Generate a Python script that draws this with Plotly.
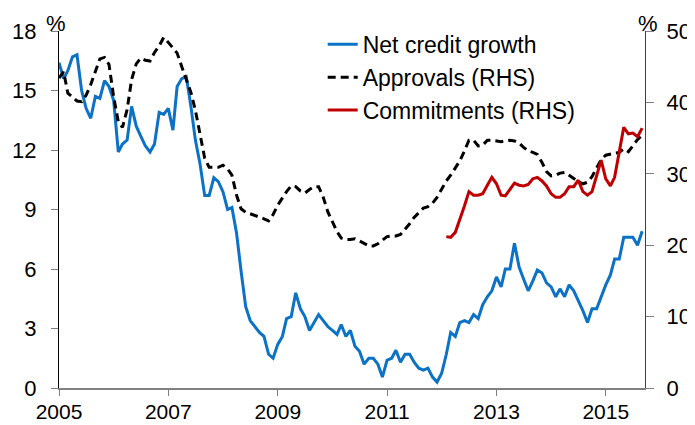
import pandas as pd
import plotly.graph_objects as go

dates = pd.date_range("2005-01-01", periods=129, freq="MS")

net_credit_growth = [
    16.4, 15.6, 16.0, 16.7, 16.8, 15.0, 14.1, 13.6, 14.7, 14.6, 15.5, 15.2,
    14.5, 11.9, 12.3, 12.5, 14.2, 13.2, 12.7, 12.2, 11.9, 12.3, 13.9, 13.8,
    14.1, 13.0, 15.2, 15.6, 15.7, 14.2, 12.5, 11.3, 9.7, 9.7, 10.6, 10.4,
    9.9, 9.0, 9.1, 7.8, 5.9, 4.1, 3.4, 3.1, 2.8, 2.6, 1.7, 1.5,
    2.2, 2.6, 3.5, 3.6, 4.8, 4.0, 3.6, 2.9, 3.3, 3.7, 3.4, 3.1,
    2.9, 2.7, 3.2, 2.6, 2.9, 2.1, 1.85, 1.2, 1.5, 1.5, 1.2, 0.55,
    1.4, 1.5, 1.9, 1.3, 1.7, 1.7, 1.3, 1.0, 0.9, 1.0, 0.55, 0.3,
    0.75, 1.7, 2.8, 2.6, 3.3, 3.4, 3.3, 3.7, 3.5, 4.2, 4.6, 4.9,
    5.6, 5.1, 6.0, 6.0, 7.3, 6.1, 5.5, 4.9, 5.4, 5.95, 5.8, 5.3,
    5.1, 4.6, 5.0, 4.6, 5.2, 4.9, 4.4, 3.9, 3.3, 4.0, 4.0, 4.6,
    5.2, 5.7, 6.5, 6.5, 7.6, 7.6, 7.6, 7.2, 7.9,
]

approvals = [
    43.4, 44.3, 41.3, 40.8, 40.2, 40.1, 41.0, 42.5, 44.2, 46.1, 46.3, 45.3,
    40.8, 37.3, 36.5, 39.0, 43.2, 45.4, 46.2, 45.9, 45.8, 47.0, 47.9, 49.1,
    48.4, 47.6, 46.9, 45.0, 43.2, 41.4, 38.9, 35.5, 32.2, 30.9, 30.9, 30.9,
    31.2, 30.7, 29.8, 27.0, 25.1, 24.6, 24.4, 24.2, 24.0, 23.7, 23.4, 24.3,
    25.6, 26.6, 27.5, 28.3, 28.2, 27.6, 27.3, 27.8, 28.2, 28.2, 26.7, 24.7,
    23.2, 21.9, 21.0, 20.8, 20.8, 20.9, 20.6, 20.3, 19.9, 19.9, 20.2, 20.7,
    21.2, 21.3, 21.3, 21.5, 22.2, 23.0, 23.9, 24.6, 25.2, 25.4, 25.9, 26.7,
    27.8, 29.0, 29.8, 30.8, 31.8, 33.2, 34.7, 34.7, 33.9, 34.0, 34.7, 34.7,
    34.6, 34.5, 34.6, 34.7, 34.6, 34.3, 33.7, 33.2, 33.0, 32.7, 31.6, 30.3,
    29.7, 29.8, 30.1, 30.2, 29.8, 29.3, 28.9, 28.6, 28.8, 29.6, 30.8, 32.0,
    32.6, 32.8, 32.9, 33.0, 33.5, 33.1, 33.9, 34.8, 35.4,
]

commitments = [None] * 85 + [
    21.2, 21.1, 21.8, 23.5, 25.5, 27.5, 27.0, 27.0, 27.2, 28.4, 29.5,
    28.6, 27.0, 26.9, 27.8, 28.7, 28.4, 28.3, 28.5, 29.3, 29.5, 29.0, 28.3,
    27.2, 26.7, 26.7, 27.2, 28.2, 28.2, 29.1, 27.5, 27.0, 27.5, 29.8, 31.9,
    29.3, 28.3, 29.5, 33.0, 36.5, 35.6, 35.7, 35.2, 36.4,
]

left_ticks = [0, 3, 6, 9, 12, 15, 18]
right_ticks = [0, 10, 20, 30, 40, 50]
year_ticks = ["2005", "2007", "2009", "2011", "2013", "2015"]

FONT = "Arial, Liberation Sans, sans-serif"
TICK_SIZE = 22

fig = go.Figure()
fig.add_trace(go.Scatter(
    x=dates, y=net_credit_growth, name="Net credit growth", mode="lines",
    line=dict(color="#0B72C5", width=3), yaxis="y", legendgroup="a",
))
fig.add_trace(go.Scatter(
    x=dates, y=approvals, name="Approvals (RHS)", mode="lines",
    line=dict(color="#000000", width=3, dash="8px,5px"), yaxis="y2", legendgroup="b",
))
fig.add_trace(go.Scatter(
    x=dates, y=commitments, name="Commitments (RHS)", mode="lines",
    line=dict(color="#C00000", width=3), yaxis="y2", legendgroup="c",
))

# the page body adds an 8px offset; margins compensate so the plot lands where the reference has it
fig.update_layout(
    width=695, height=425,
    margin=dict(l=51, r=58, t=23, b=45, autoexpand=False),
    paper_bgcolor="white", plot_bgcolor="white",
    font=dict(family=FONT, size=TICK_SIZE, color="#000000"),
    showlegend=True,
    legend=dict(
        x=0.45, y=1.023, xanchor="left", yanchor="top",
        bgcolor="rgba(0,0,0,0)", borderwidth=0,
        font=dict(size=23), tracegroupgap=0, traceorder="grouped",
        itemwidth=30,
    ),
    xaxis=dict(
        range=["2005-01-01", "2015-09-20"],
        tickvals=[pd.Timestamp(y + "-01-01") for y in year_ticks],
        ticktext=year_ticks, automargin=False,
        showgrid=False, zeroline=False,
        showline=True, linecolor="#808080", linewidth=2,
        ticks="outside", ticklen=6, tickcolor="#808080", tickwidth=1,
        tickfont=dict(size=21), ticklabelstandoff=-2,
    ),
    yaxis=dict(
        range=[0, 18], tickvals=left_ticks, automargin=False,
        showgrid=False, zeroline=False,
        showline=True, linecolor="#000000", linewidth=1,
        ticks="outside", ticklen=7, tickcolor="#808080", tickwidth=1,
        tickfont=dict(size=TICK_SIZE), ticklabelstandoff=10,
    ),
    yaxis2=dict(
        range=[0, 50], tickvals=right_ticks, overlaying="y", side="right",
        automargin=False,
        showgrid=False, zeroline=False,
        showline=True, linecolor="#404040", linewidth=1,
        ticks="outside", ticklen=8, tickcolor="#808080", tickwidth=1,
        tickfont=dict(size=TICK_SIZE), ticklabelstandoff=8,
    ),
    annotations=[
        dict(text="%", xref="paper", yref="paper", x=0, y=1, xanchor="right",
             yanchor="bottom", xshift=9, yshift=-7, showarrow=False, font=dict(size=22)),
        dict(text="%", xref="paper", yref="paper", x=1, y=1, xanchor="center",
             yanchor="bottom", xshift=3, yshift=-7, showarrow=False, font=dict(size=22)),
    ],
)

fig.write_html("out.html")
